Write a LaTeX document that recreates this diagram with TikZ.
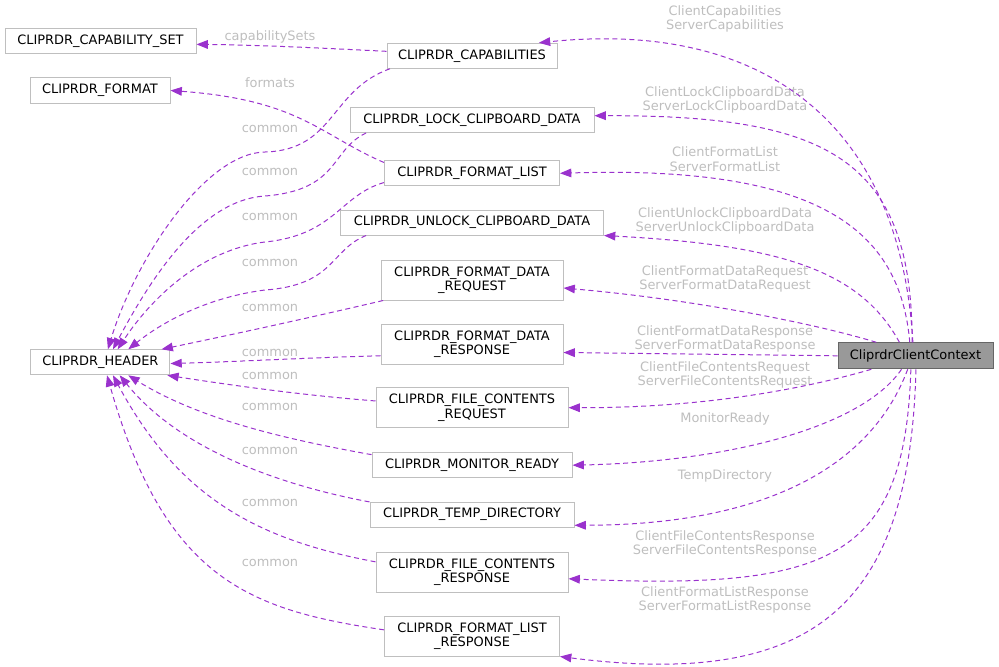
\documentclass[tikz,border=0pt]{standalone}
\usepackage{fontspec}
\setmainfont{DejaVu Sans}
\usetikzlibrary{arrows.meta}
\definecolor{edgepurple}{HTML}{9A32CD}
\definecolor{boxgray}{HTML}{BFBFBF}
\definecolor{lblgray}{HTML}{BEBEBE}
\definecolor{ctxfill}{HTML}{999999}
\definecolor{ctxline}{HTML}{666666}
\tikzset{
    cls/.style={rectangle,draw=boxgray,fill=white,line width=0.75pt,minimum height=18.75pt,inner sep=0pt,font=\fontsize{9.7}{10.6}\selectfont},
    cls2/.style={cls,minimum height=30pt,align=center},
    focus/.style={cls,draw=ctxline,fill=ctxfill,minimum height=19.5pt},
    member/.style={->,>={Triangle[length=8.5pt,width=6.5pt]},draw=edgepurple,line width=0.75pt,dash pattern=on 3.75pt off 2.6pt},
    lbl/.style={text=lblgray,align=center,inner sep=0pt,font=\fontsize{9.7}{10.9}\selectfont},
}

\begin{document}
\begin{tikzpicture}[x=0.75pt,y=-0.75pt]
\useasboundingbox (0,0) rectangle (999,667);
\node[cls,minimum width=143.25pt] (capset) at (100.5,41) {CLIPRDR\_CAPABILITY\_SET};
\node[cls,minimum width=105pt] (fmt) at (100,90.5) {CLIPRDR\_FORMAT};
\node[cls,minimum width=104.25pt] (hdr) at (100.4,362.3) {CLIPRDR\_HEADER};
\node[cls,minimum width=127.5pt] (caps) at (472,55.8) {CLIPRDR\_CAPABILITIES};
\node[cls,minimum width=183pt] (lock) at (472,120) {CLIPRDR\_LOCK\_CLIPBOARD\_DATA};
\node[cls,minimum width=131.25pt] (flist) at (472,173.3) {CLIPRDR\_FORMAT\_LIST};
\node[cls,minimum width=197.25pt] (unlock) at (472,222.5) {CLIPRDR\_UNLOCK\_CLIPBOARD\_DATA};
\node[cls2,minimum width=136.5pt] (fdreq) at (472,280) {CLIPRDR\_FORMAT\_DATA\\\_REQUEST};
\node[cls2,minimum width=136.5pt] (fdresp) at (472,344.5) {CLIPRDR\_FORMAT\_DATA\\\_RESPONSE};
\node[cls2,minimum width=144pt] (fcreq) at (472,407.7) {CLIPRDR\_FILE\_CONTENTS\\\_REQUEST};
\node[cls,minimum width=150pt] (mon) at (472,465.2) {CLIPRDR\_MONITOR\_READY};
\node[cls,minimum width=153pt] (tmp) at (472,514.5) {CLIPRDR\_TEMP\_DIRECTORY};
\node[cls2,minimum width=144pt] (fcresp) at (472,572) {CLIPRDR\_FILE\_CONTENTS\\\_RESPONSE};
\node[cls2,minimum width=131.25pt] (flresp) at (472,636) {CLIPRDR\_FORMAT\_LIST\\\_RESPONSE};
\node[focus,minimum width=116.25pt] (ctx) at (915.5,355.8) {CliprdrClientContext};

\node[lbl] (l1) at (725,19) {ClientCapabilities\\ServerCapabilities};
\node[lbl] (l2) at (725,100) {ClientLockClipboardData\\ServerLockClipboardData};
\node[lbl] (l3) at (725,159) {ClientFormatList\\ServerFormatList};
\node[lbl] (l4) at (725,221) {ClientUnlockClipboardData\\ServerUnlockClipboardData};
\node[lbl] (l5) at (725,279) {ClientFormatDataRequest\\ServerFormatDataRequest};
\node[lbl] (l6) at (725,339) {ClientFormatDataResponse\\ServerFormatDataResponse};
\node[lbl] (l7) at (725,375) {ClientFileContentsRequest\\ServerFileContentsRequest};
\node[lbl] (l8) at (725,419) {MonitorReady};
\node[lbl] (l9) at (725,476) {TempDirectory};
\node[lbl] (l10) at (725,544) {ClientFileContentsResponse\\ServerFileContentsResponse};
\node[lbl] (l11) at (725,600) {ClientFormatListResponse\\ServerFormatListResponse};
\node[lbl] (l12) at (270,37) {capabilitySets};
\node[lbl] (l13) at (270,83) {formats};
\node[lbl] (c1) at (270,129) {common};
\node[lbl] (c2) at (270,172) {common};
\node[lbl] (c3) at (270,217) {common};
\node[lbl] (c4) at (270,263) {common};
\node[lbl] (c5) at (270,308) {common};
\node[lbl] (c6) at (270,353) {common};
\node[lbl] (c7) at (270,376) {common};
\node[lbl] (c8) at (270,407) {common};
\node[lbl] (c9) at (270,451) {common};
\node[lbl] (c10) at (270,503) {common};
\node[lbl] (c11) at (270,563) {common};

\draw[member] (ctx.101) .. controls (900,120) and (760,20) .. (caps.11);
\draw[member] (ctx.104) .. controls (912,160) and (830,115) .. (lock.2);
\draw[member] (ctx.113) .. controls (900,230) and (820,165) .. (flist.east);
\draw[member] (ctx.140) .. controls (860,270) and (780,245) .. (unlock.south east);
\draw[member] (ctx.161) .. controls (820,325) and (700,300) .. (fdreq.-5);
\draw[member] (ctx.west) -- (fdresp.-5);
\draw[member] (ctx.197) .. controls (800,390) and (700,408) .. (fcreq.east);
\draw[member] (ctx.224) .. controls (860,430) and (720,462) .. (mon.east);
\draw[member] (ctx.240) .. controls (870,470) and (760,525) .. (tmp.-6);
\draw[member] (ctx.251) .. controls (905,560) and (830,590) .. (fcresp.-4);
\draw[member] (ctx.272) .. controls (910,600) and (820,690) .. (flresp.south east);
\draw[member] (caps.177) .. controls (320,48) and (260,45) .. (capset.-2);
\draw[member] (flist.173) .. controls (320,135) and (300,100) .. (fmt.east);
\draw[member] (caps.189) .. controls (330,90) and (335,150) .. (265,152) .. controls (205,153) and (135,260) .. (hdr.60);
\draw[member] (lock.187) .. controls (330,150) and (340,190) .. (265,196) .. controls (200,200) and (150,280) .. (hdr.46);
\draw[member] (flist.186) .. controls (340,195) and (335,235) .. (265,242) .. controls (200,250) and (150,300) .. (hdr.37);
\draw[member] (unlock.187) .. controls (330,250) and (335,285) .. (265,290) .. controls (210,297) and (165,320) .. (hdr.25);
\draw[member] (fdreq.193) .. controls (300,320) and (230,335) .. (hdr.12);
\draw[member] (fdresp.187) .. controls (300,358) and (230,362) .. (hdr.-1);
\draw[member] (fcreq.176) .. controls (300,395) and (230,385) .. (hdr.-11);
\draw[member] (mon.174) .. controls (290,440) and (200,420) .. (hdr.-25);
\draw[member] (tmp.173) .. controls (280,485) and (180,450) .. (hdr.-34);
\draw[member] (fcresp.174) .. controls (260,540) and (180,500) .. (hdr.-46);
\draw[member] (flresp.176) .. controls (250,610) and (165,580) .. (hdr.-63);
\end{tikzpicture}
\end{document}
